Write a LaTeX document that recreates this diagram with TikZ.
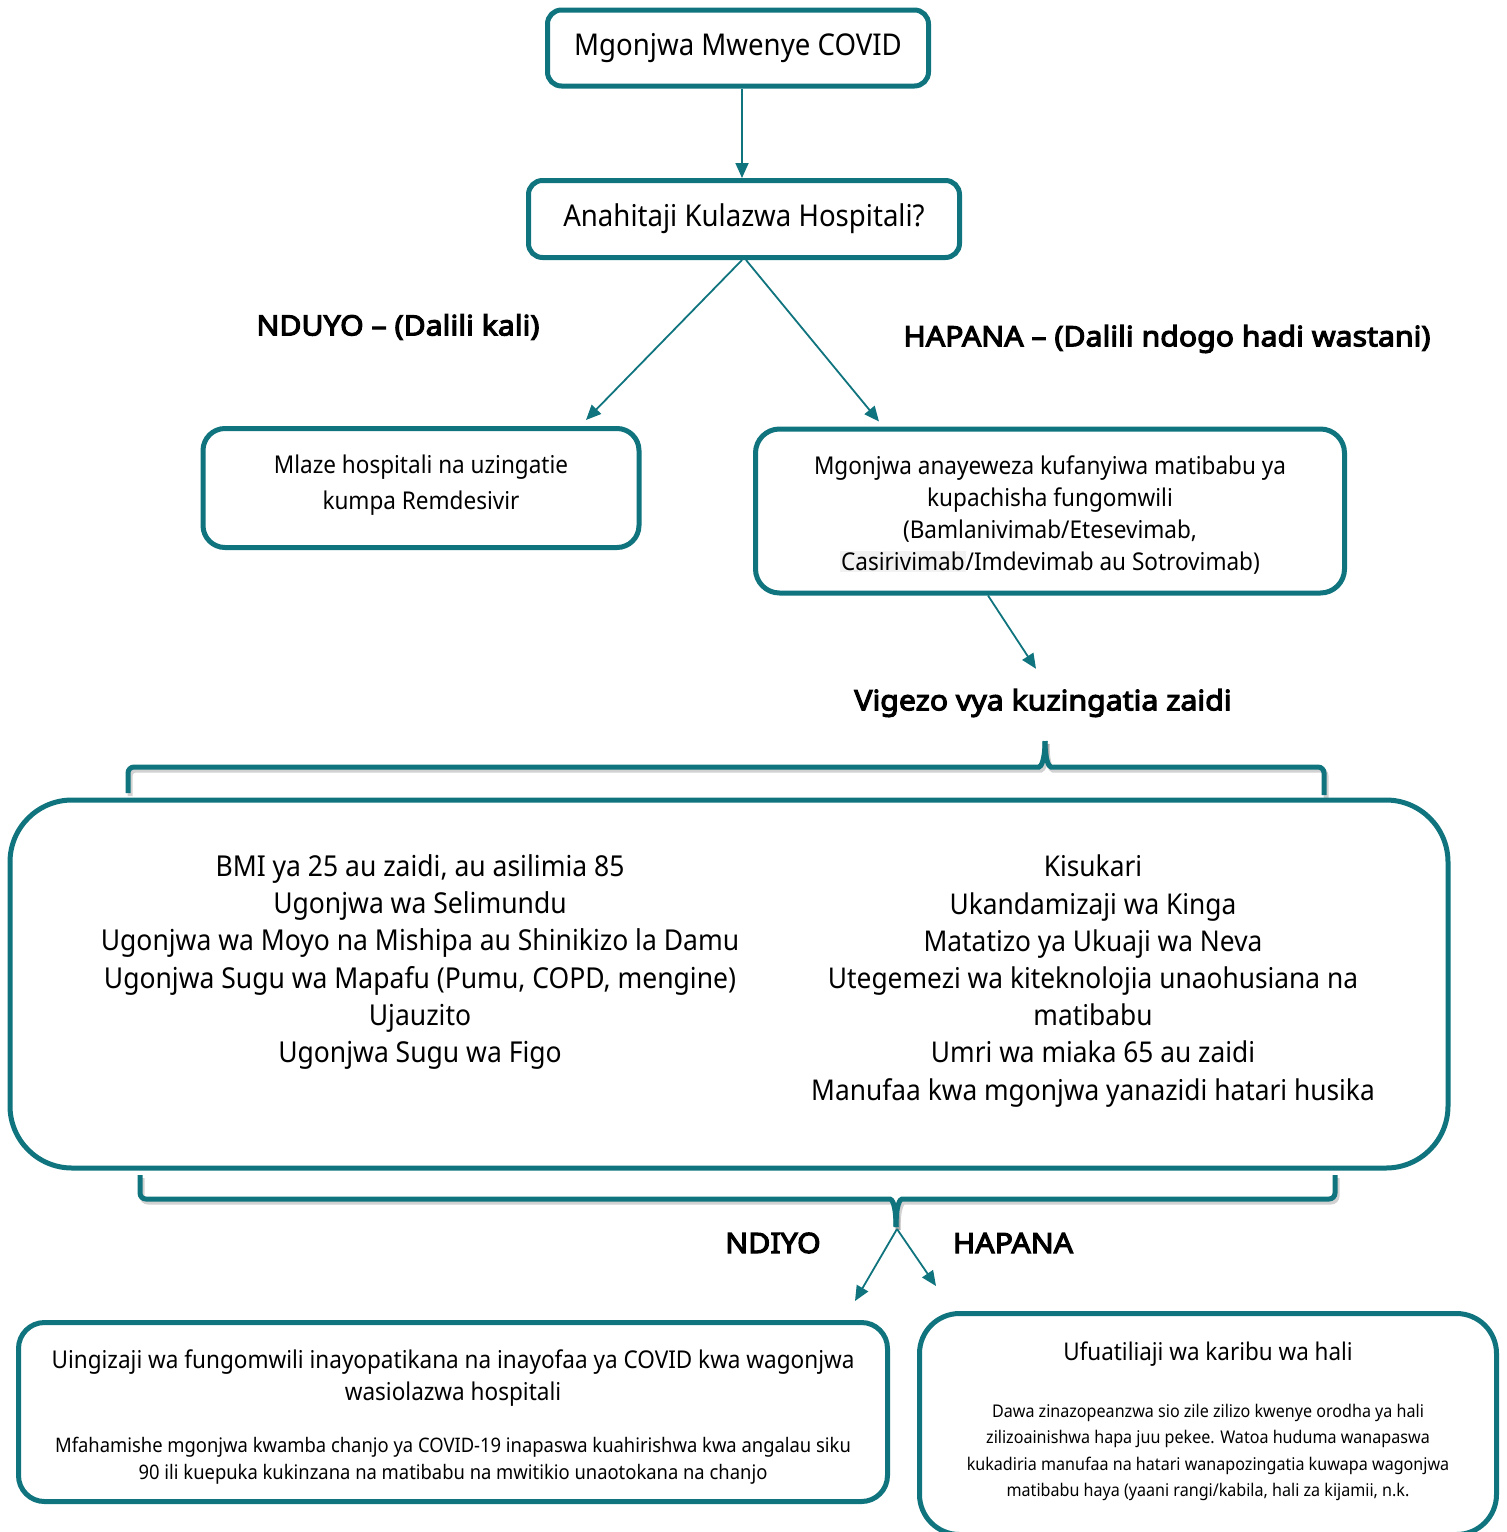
\documentclass[tikz,border=0pt]{standalone}
\usepackage{fontspec}
\setmainfont{Noto Sans}[FakeStretch=0.92]
\newfontfamily\lblfont{Noto Sans}[FakeStretch=1.08, FakeBold=4]
\usetikzlibrary{arrows.meta}
\definecolor{teal1}{RGB}{16,116,126}
\newcommand{\fsz}[2]{\fontsize{#1}{#2}\selectfont}
\begin{document}
\begin{tikzpicture}[x=1pt,y=-1pt,
  box/.style={draw=teal1, line width=5pt, rounded corners=#1, fill=white, align=center, inner sep=0pt},
  box/.default=14pt,
  txt/.style={align=center, inner sep=0pt},
  arr/.style={draw=teal1, line width=1.8pt, -{Triangle[length=15pt,width=13pt]}},
  bracepath/.style={draw=teal1, line width=5pt, rounded corners=6pt},
  braceshadow/.style={draw=black, line width=5pt, rounded corners=6pt, opacity=0.18},
  lbl/.style={font=\lblfont\fsz{28}{34}, inner sep=0pt},
]
\useasboundingbox (0,0) rectangle (1507,1532);

% top boxes
\node[box, minimum width=381pt, minimum height=76pt, font=\fsz{30}{36}] (b1) at (738,48) {Mgonjwa Mwenye COVID};
\node[box, minimum width=431pt, minimum height=77pt, font=\fsz{30}{36}] (b2) at (744,219) {Anahitaji Kulazwa Hospitali?};
\draw[arr] ([xshift=4pt]b1.south) -- ([xshift=4pt]b1.south |- b2.north);

\node[box=22pt, minimum width=436pt, minimum height=119pt] (b3) at (421,488) {};
\node[txt, font=\fsz{24.5}{36}] (t3) at (421,485) {Mlaze hospitali na uzingatie\\kumpa Remdesivir};
\node[box=24pt, minimum width=589pt, minimum height=164pt] (b4) at (1050,511) {};
\node[txt, font=\fsz{24.5}{32}] (t4) at (1050,515)
  {Mgonjwa anayeweza kufanyiwa matibabu ya\\kupachisha fungomwili\\(Bamlanivimab/Etesevimab,\\{\setlength{\fboxsep}{1pt}\colorbox{black!5}{Casirivimab}}/Imdevimab au Sotrovimab)};

\node[lbl] (l1) at (398,327) {NDUYO – (Dalili kali)};
\node[lbl] (l2) at (1167,339) {HAPANA – (Dalili ndogo hadi wastani)};

\draw[arr] ([xshift=-2pt]b2.south) -- ([xshift=165pt,yshift=6pt]b3.north);
\draw[arr] ([xshift=2pt]b2.south) -- ([xshift=-171pt,yshift=5pt]b4.north);

\node[lbl] (vig) at (1043,703) {Vigezo vya kuzingatia zaidi};
\draw[arr] ([xshift=-62pt]b4.south) -- ([xshift=-7pt,yshift=20pt]vig.north);

% top brace
\foreach \s/\dx/\dy in {braceshadow/2/3, bracepath/0/0}{
  \draw[\s, shift={(\dx,\dy)}] (128,793) -- (128,767) -- (1033,767) .. controls (1041,767) and (1045,760) .. (1045,741);
  \draw[\s, shift={(\dx,\dy)}] (1045,741) .. controls (1045,760) and (1049,767) .. (1057,767) -- (1324,767) -- (1324,795);
}

% big box
\node[box=62pt, minimum width=1438pt, minimum height=368pt] (big) at (729,984) {};
\node[txt, font=\fsz{28.8}{37.2}] (left) at (420,962)
  {BMI ya 25 au zaidi, au asilimia 85\\Ugonjwa wa Selimundu\\Ugonjwa wa Moyo na Mishipa au Shinikizo la Damu\\Ugonjwa Sugu wa Mapafu (Pumu, COPD, mengine)\\Ujauzito\\Ugonjwa Sugu wa Figo};
\node[txt, font=\fsz{28.6}{37.2}] (right) at (1093,981)
  {Kisukari\\Ukandamizaji wa Kinga\\Matatizo ya Ukuaji wa Neva\\Utegemezi wa kiteknolojia unaohusiana na\\matibabu\\Umri wa miaka 65 au zaidi\\Manufaa kwa mgonjwa yanazidi hatari husika};

% bottom brace
\foreach \s/\dx/\dy in {braceshadow/2/3, bracepath/0/0}{
  \draw[\s, shift={(\dx,\dy)}] (140,1175) -- (140,1199) -- (884,1199) .. controls (892,1199) and (896,1205) .. (896,1227);
  \draw[\s, shift={(\dx,\dy)}] (896,1227) .. controls (896,1205) and (900,1199) .. (908,1199) -- (1335,1199) -- (1335,1175);
}
\coordinate (tip2) at (897,1229);

\node[lbl] (ndiyo) at (773,1243) {NDIYO};
\node[lbl] (hapana) at (1013,1243) {HAPANA};

% bottom boxes
\node[box=26pt, minimum width=869pt, minimum height=179pt] (b5) at (453,1412) {};
\node[txt, font=\fsz{24.5}{32}] (t5a) at (453,1378) {Uingizaji wa fungomwili inayopatikana na inayofaa ya COVID kwa wagonjwa\\wasiolazwa hospitali};
\node[txt, font=\fsz{20}{27}] (t5b) at (453,1460.5) {Mfahamishe mgonjwa kwamba chanjo ya COVID-19 inapaswa kuahirishwa kwa angalau siku\\90 ili kuepuka kukinzana na matibabu na mwitikio unaotokana na chanjo};

\node[box=40pt, minimum width=577pt, minimum height=221pt] (b6) at (1208,1424) {};
\node[txt, font=\fsz{24.4}{32}] (t6a) at (1208,1354) {Ufuatiliaji wa karibu wa hali};
\node[txt, font=\fsz{17.5}{26.3}] (t6b) at (1208,1452.5) {Dawa zinazopeanzwa sio zile zilizo kwenye orodha ya hali\\zilizoainishwa hapa juu pekee. Watoa huduma wanapaswa\\kukadiria manufaa na hatari wanapozingatia kuwapa wagonjwa\\matibabu haya (yaani rangi/kabila, hali za kijamii, n.k.};

\draw[arr] (tip2) -- ([xshift=402pt,yshift=19pt]b5.north);
\draw[arr] (tip2) -- ([xshift=-272pt,yshift=25pt]b6.north);
\end{tikzpicture}
\end{document}
